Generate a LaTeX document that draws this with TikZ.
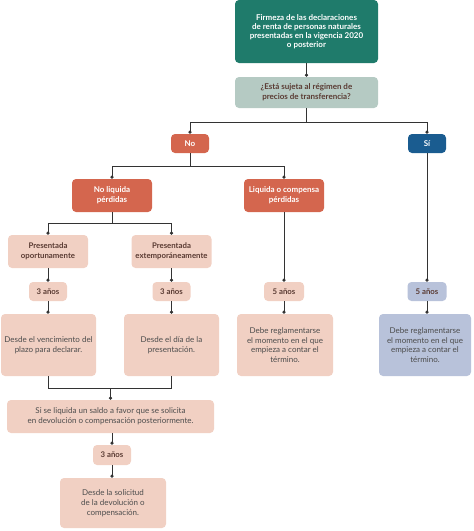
\documentclass[tikz,border=0pt]{standalone}
\usepackage{fontspec}
\setmainfont{Lato}
\usetikzlibrary{arrows.meta}
\definecolor{teal1}{HTML}{1F7B6B}
\definecolor{grayg}{HTML}{B5CAC3}
\definecolor{orng}{HTML}{D4664E}
\definecolor{blu}{HTML}{1A5C90}
\definecolor{pale}{HTML}{F1D0C3}
\definecolor{paleb}{HTML}{B8C2DA}
\definecolor{txtg}{HTML}{4D4D4D}
\definecolor{txtb}{HTML}{5A3B33}
\definecolor{lin}{HTML}{333333}
\tikzset{
  x=1pt,y=1pt,
  box/.style={rounded corners=4pt, align=center, inner sep=1pt, font=\fontsize{8}{9.8}\selectfont},
  boxteal/.style={box, fill=teal1, text=white, font=\bfseries\fontsize{8}{9.2}\selectfont},
  boxgray/.style={box, fill=grayg, text=txtb, font=\bfseries\fontsize{8}{9.8}\selectfont},
  boxor/.style={box, fill=orng, text=white, font=\bfseries\fontsize{8}{9.8}\selectfont},
  boxbl/.style={box, fill=blu, text=white, font=\bfseries\fontsize{8}{9.8}\selectfont},
  boxpb/.style={box, fill=pale, text=txtb, font=\bfseries\fontsize{7.8}{9.8}\selectfont},
  boxp/.style={box, fill=pale, text=txtg},
  boxpl/.style={box, fill=paleb, text=txtg},
  conn/.style={draw=lin, line width=0.9pt},
  dot/.style={conn, -{Circle[length=3.3pt]}},
}
\begin{document}
\begin{tikzpicture}
\useasboundingbox (0,0) rectangle (474,-531);
% nodes
\node[boxteal, minimum width=143, minimum height=63] (top) at (306.5,-31.5) {Firmeza de las declaraciones\\de renta de personas naturales\\presentadas en la vigencia 2020\\o posterior};
\node[boxgray, minimum width=143, minimum height=31] (q) at (306.5,-92.5) {¿Está sujeta al régimen de\\precios de transferencia?};
\node[boxor, minimum width=38, minimum height=19] (no) at (190,-143.5) {No};
\node[boxbl, minimum width=38, minimum height=19] (si) at (427,-143.5) {Sí};
\node[boxor, minimum width=80, minimum height=33] (noliq) at (112,-195.5) {No liquida\\pérdidas};
\node[boxor, minimum width=80, minimum height=33] (liq) at (284,-195.5) {Liquida o compensa\\pérdidas};
\node[boxpb, minimum width=80, minimum height=33] (pop) at (48,-251.5) {Presentada\\oportunamente};
\node[boxpb, minimum width=80, minimum height=33] (pext) at (171.5,-251.5) {Presentada\\extemporáneamente};
\node[boxpb, minimum width=38, minimum height=19] (a1) at (48,-291.5) {3 años};
\node[boxpb, minimum width=38, minimum height=19] (a2) at (171.5,-291.5) {3 años};
\node[boxpb, minimum width=40, minimum height=19] (a3) at (284,-291.5) {5 años};
\node[boxpb, fill=paleb, minimum width=39, minimum height=19] (a4) at (427,-291.5) {5 años};
\node[boxp, minimum width=95, minimum height=62] (d1) at (48.5,-345) {Desde el vencimiento del\\plazo para declarar.};
\node[boxp, minimum width=95, minimum height=62] (d2) at (171.5,-345) {Desde el día de la\\presentación.};
\node[boxp, minimum width=96, minimum height=62] (d3) at (285,-345) {Debe reglamentarse\\el momento en el que\\empieza a contar el\\término.};
\node[boxpl, minimum width=92, minimum height=62] (d4) at (425,-345) {Debe reglamentarse\\el momento en el que\\empieza a contar el\\término.};
\node[boxp, minimum width=207, minimum height=33] (s) at (110.5,-416.5) {Si se liquida un saldo a favor que se solicita\\en devolución o compensación posteriormente.};
\node[boxpb, minimum width=38, minimum height=20] (a5) at (112,-455) {3 años};
\node[boxp, minimum width=106, minimum height=50] (d5) at (113,-503) {Desde la solicitud\\de la devolución o\\compensación.};
% coordinates
\coordinate (b1) at (306.5,-122);
\coordinate (b2) at (190,-166);
\coordinate (b3) at (112,-223);
\coordinate (b4) at (110.5,-388);
% connectors
\draw[dot] (top) -- (q);
\draw[conn] (q) -- (b1);
\draw[dot] (b1) -| (no);
\draw[dot] (b1) -| (si);
\draw[conn] (no) -- (b2);
\draw[dot] (b2) -| (noliq);
\draw[dot] (b2) -| (liq);
\draw[conn] (noliq) -- (b3);
\draw[dot] (b3) -| (pop);
\draw[dot] (b3) -| (pext);
\draw[dot] (pop) -- (a1);
\draw[dot] (pext) -- (a2);
\draw[dot] (liq) -- (a3);
\draw[dot] (si) -- (a4);
\draw[dot] (a1) -- (d1.north -| a1);
\draw[dot] (a2) -- (d2);
\draw[dot] (a3) -- (d3.north -| a3);
\draw[dot] (a4) -- (d4.north -| a4);
\draw[conn] (d1.south -| a1) |- (b4);
\draw[conn] (d2) |- (b4);
\draw[dot] (b4) -- (s);
\draw[dot] (s.south -| a5) -- (a5);
\draw[dot] (a5) -- (d5.north -| a5);
\end{tikzpicture}
\end{document}
